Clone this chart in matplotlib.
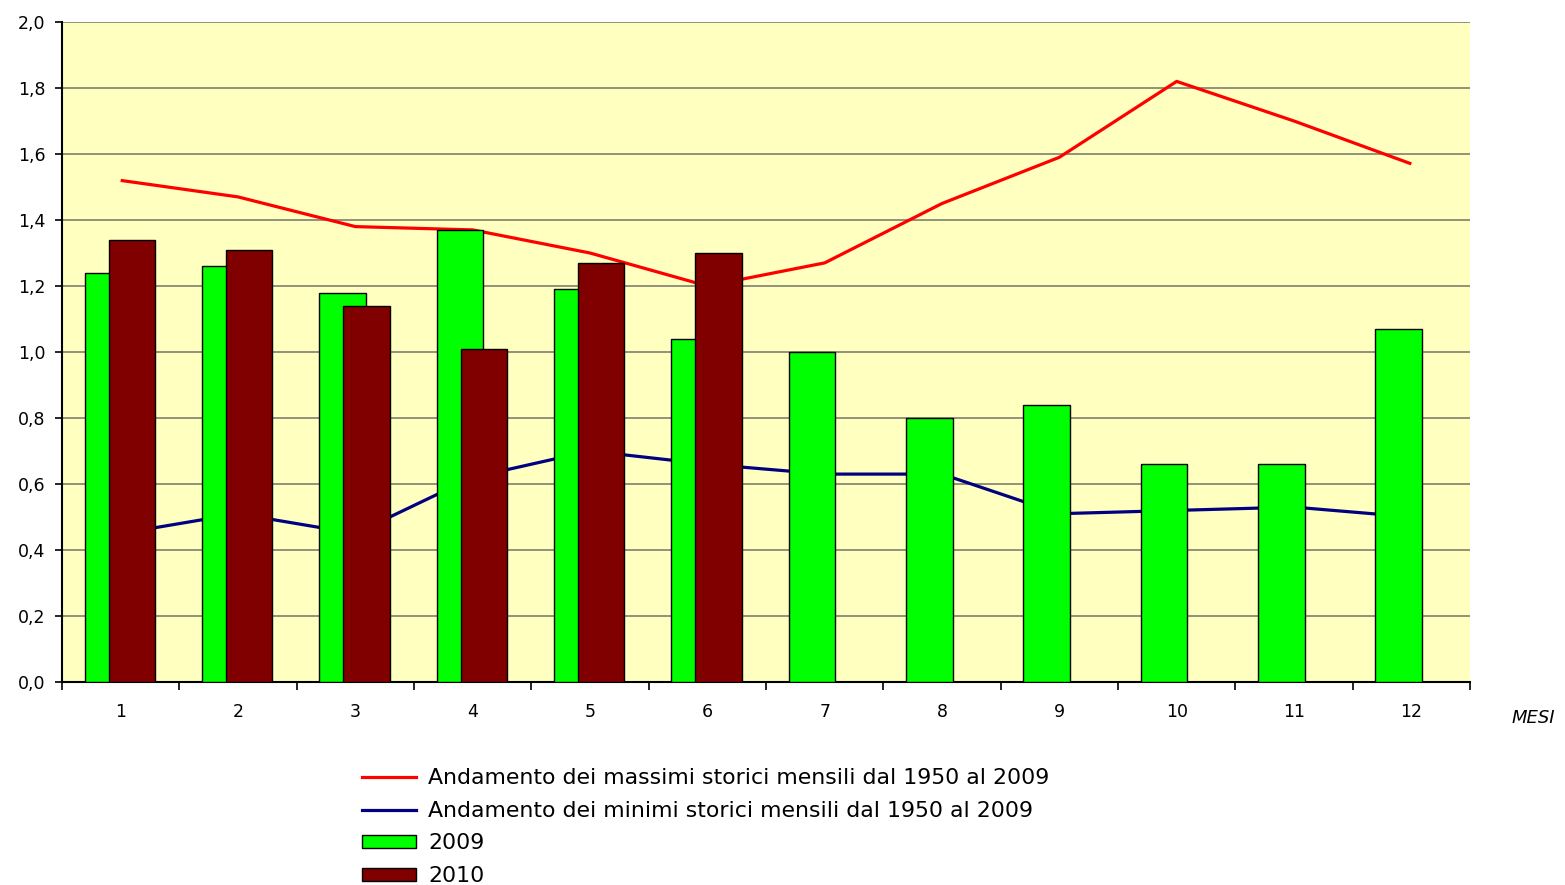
import matplotlib
matplotlib.use("Agg")
import matplotlib.pyplot as plt
import numpy as np
from matplotlib.ticker import FuncFormatter, FixedLocator
from matplotlib.lines import Line2D
from matplotlib.patches import Patch

plt.rcParams['font.family'] = ['DejaVu Sans']

months = [1, 2, 3, 4, 5, 6, 7, 8, 9, 10, 11, 12]
month_labels = ['1', '2', '3', '4', '5', '6', '7', '8', '9', '10', '11', '12']
vals_2009 = [1.24, 1.26, 1.18, 1.37, 1.19, 1.04, 1.00, 0.80, 0.84, 0.66, 0.66, 1.07]
vals_2010 = [1.34, 1.31, 1.14, 1.01, 1.27, 1.30]
max_hist = [1.52, 1.47, 1.38, 1.37, 1.30, 1.20, 1.27, 1.45, 1.59, 1.82, 1.70, 1.57]
min_hist = [0.45, 0.51, 0.45, 0.62, 0.70, 0.66, 0.63, 0.63, 0.51, 0.52, 0.53, 0.50]

lab_max = 'Andamento dei massimi storici mensili dal 1950 al 2009'
lab_min = 'Andamento dei minimi storici mensili dal 1950 al 2009'

fig = plt.figure(figsize=(15.65, 8.85), dpi=100)
ax = fig.add_axes([62/1565, 1 - 682/885, (1470-62)/1565, (682-22)/885])
ax.set_facecolor('#FFFFC0')

x = np.arange(len(months))
x10 = np.arange(len(vals_2010))
w = 0.395

ax.plot(x, max_hist, color='#FF0000', lw=2.3, zorder=2, solid_capstyle='butt')
ax.plot(x, min_hist, color='#000080', lw=2.3, zorder=2, solid_capstyle='butt')
ax.bar(x - 0.108, vals_2009, width=w, color='#00FF00', edgecolor='black', linewidth=1.0, zorder=3)
ax.bar(x10 + 0.095, vals_2010, width=w, color='#800000', edgecolor='black', linewidth=1.0, zorder=4)

ax.set_xlim(-0.5, 11.5)
ax.set_ylim(0, 2.0)
ax.set_yticks(np.arange(0, 2.01, 0.2))
ax.yaxis.set_major_formatter(FuncFormatter(lambda v, p: f'{v:.1f}'.replace('.', ',')))
ax.grid(axis='y', color='#7f7f70', lw=1.2, zorder=1)
ax.set_axisbelow(True)

ax.set_xticks(x)
ax.set_xticklabels(month_labels)
ax.xaxis.set_minor_locator(FixedLocator(np.arange(-0.5, 12, 1.0)))
ax.tick_params(axis='x', which='major', length=0, pad=15, labelsize=12.5)
ax.tick_params(axis='x', which='minor', length=6, width=1.2, direction='out')
ax.tick_params(axis='y', which='major', length=5, width=1.2, direction='out', pad=7, labelsize=12.5)

for s in ['top', 'right']:
    ax.spines[s].set_visible(False)
for s in ['left', 'bottom']:
    ax.spines[s].set_linewidth(1.5)

fig.text(1533/1565, 1 - 718/885, 'MESI', style='italic', fontsize=13, ha='center', va='center')

handles = [
    Line2D([], [], color='#FF0000', lw=2.3),
    Line2D([], [], color='#000080', lw=2.3),
    Patch(facecolor='#00FF00', edgecolor='black', linewidth=1.0),
    Patch(facecolor='#800000', edgecolor='black', linewidth=1.0),
]
labels = [lab_max, lab_min, '2009', '2010']
fig.legend(handles, labels, loc='upper left', bbox_to_anchor=(362/1565, 1 - 768/885),
           frameon=False, fontsize=15.8, handlelength=2.48, handleheight=0.55,
           handletextpad=0.55, labelspacing=0.58, borderpad=0, borderaxespad=0)

fig.savefig('out.png', dpi=100)
